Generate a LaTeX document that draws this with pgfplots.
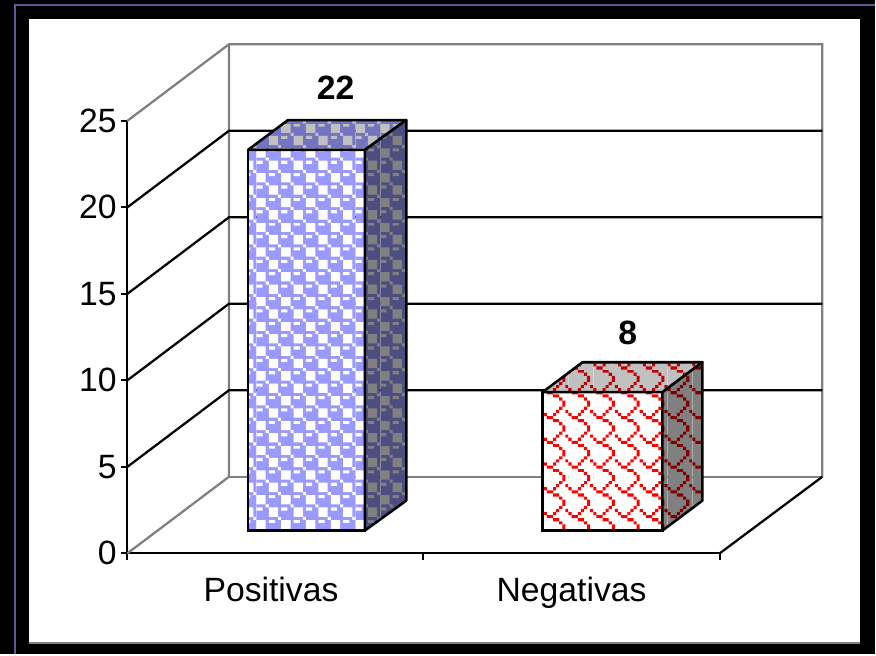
\documentclass[border=0pt]{standalone}
\usepackage{pgfplots}
\pgfplotsset{compat=1.18}
\usepackage{fontspec}
\setmainfont{Liberation Sans}
\usetikzlibrary{patterns}
\definecolor{frame}{HTML}{5A5A96}
\definecolor{wall}{HTML}{808080}
\definecolor{bluef}{HTML}{9999FF}
\definecolor{bluet}{HTML}{7373BF}
\definecolor{blues}{HTML}{4D4D80}
\definecolor{redf}{HTML}{FF0000}
\definecolor{redt}{HTML}{C00000}
\definecolor{reds}{HTML}{800000}
\definecolor{topbg}{HTML}{C0C0C0}
\definecolor{sidebg}{HTML}{808080}
% one brush pixel is 3.1 image pixels = 2.325pt, tile is 8x8
\newcommand\px[3]{\pgfpathrectangle{\pgfpoint{#1*2.325pt}{(7-#2)*2.325pt}}{\pgfpoint{#3*2.325pt}{2.325pt}}}
\newcommand\checks{\px{0}{0}{3}\px{4}{0}{2}\px{0}{1}{3}\px{0}{2}{3}\px{3}{3}{1}%
  \px{0}{4}{2}\px{4}{4}{3}\px{4}{5}{3}\px{4}{6}{3}\px{7}{7}{1}}
\newcommand\scales{\px{3}{0}{2}\px{5}{1}{1}\px{6}{2}{1}\px{6}{3}{1}\px{5}{4}{1}\px{4}{5}{1}\px{7}{5}{1}\px{3}{6}{1}\px{0}{6}{1}\px{1}{7}{2}}
% name, paper, ink, shape, x and y phase of the tile
\newcommand\brush[6]{\pgfdeclarepatterninherentlycolored{#1}{\pgfpoint{#5}{#6}}{\pgfpoint{#5+18.6pt}{#6+18.6pt}}{\pgfpoint{18.6pt}{18.6pt}}{%
  \pgftransformshift{\pgfpoint{#5}{#6}}%
  \pgfsetfillcolor{#2}\pgfpathrectangle{\pgfpointorigin}{\pgfpoint{18.6pt}{18.6pt}}\pgfusepath{fill}%
  \pgfsetfillcolor{#3}#4\pgfusepath{fill}}}
\brush{bluefront}{bluef}{white}{\checks}{6.55pt}{8.65pt}
\brush{bluetop}{bluet}{topbg}{\checks}{6.55pt}{8.65pt}
\brush{blueside}{blues}{sidebg}{\checks}{6.55pt}{8.65pt}
\brush{redfront}{white}{redf}{\scales}{17.65pt}{9.9pt}
\brush{redtop}{topbg}{redt}{\scales}{17.65pt}{9.9pt}
\brush{redside}{sidebg}{reds}{\scales}{17.65pt}{9.9pt}
\begin{document}
\begin{tikzpicture}
\fill[black] (0,0) rectangle (657pt,491.25pt);
\fill[white] (21.75pt,9pt) rectangle (645.75pt,477pt);
\draw[wall,line width=1pt] (21.75pt,8.5pt) -- (645.75pt,8.5pt);
\draw[frame,line width=1.5pt] (657pt,487.5pt) -- (11.25pt,487.5pt) -- (11.25pt,0pt);
\begin{axis}[
    at={(95.6pt,75.75pt)}, anchor=south west,
    scale only axis, width=444.75pt, height=324.75pt,
    xmin=0, xmax=2, ymin=0, ymax=25,
    clip=false,
    axis x line*=bottom, axis y line*=left,
    axis line style={black,line width=1.7pt,-},
    xtick={0.485,1.5}, xticklabels={Positivas,Negativas},
    minor xtick={0,1,2},
    major x tick style={draw=none},
    minor tick length=5pt,
    ytick={0,5,...,25},
    tick align=outside,
    major tick length=5pt,
    tick style={black,line width=1.5pt},
    minor tick style={black,line width=1.5pt},
    tick label style={font=\fontsize{25.3}{28}\selectfont},
    /pgf/number format/assume math mode=true,
    xticklabel style={yshift=-9.5pt},
    yticklabel style={xshift=0.5pt},
    no markers,
]
% walls and floor, the depth is (0.3433, 4.428)
\addplot[wall,line width=1.7pt] coordinates {(0,25) (0.3433,29.428) (2.3467,29.428) (2.3467,4.428)};
\addplot[wall,line width=1.7pt] coordinates {(0,0) (0.3433,4.428) (0.3433,29.428)};
\addplot[wall,line width=1.7pt] coordinates {(0.3433,4.428) (2.3467,4.428)};
\addplot[black,line width=1.7pt] coordinates {(2,0) (2.3467,4.428)};
\addplot[black,line width=1.7pt] coordinates {(0,5) (0.3433,9.428) (2.3467,9.428)};
\addplot[black,line width=1.7pt] coordinates {(0,10) (0.3433,14.428) (2.3467,14.428)};
\addplot[black,line width=1.7pt] coordinates {(0,15) (0.3433,19.428) (2.3467,19.428)};
\addplot[black,line width=1.7pt] coordinates {(0,20) (0.3433,24.428) (2.3467,24.428)};
% bars
\addplot[ybar,bar width=87.75pt,bar shift=0pt,draw=black,line width=1.9pt,pattern=bluefront,shift={(23.25pt,17.1pt)},
  nodes near coords,every node near coord/.append style={font=\fontsize{25.3}{28}\selectfont\bfseries,anchor=center,xshift=22pt,yshift=47pt}]
  coordinates {(0.5,22)};
\addplot[draw=black,line width=1.9pt,line join=round,pattern=bluetop,shift={(23.25pt,17.1pt)}]
  coordinates {(0.3027,22) (0.4377,23.73) (0.8373,23.73) (0.6973,22)} -- cycle;
\addplot[draw=black,line width=1.9pt,line join=round,pattern=blueside,shift={(23.25pt,17.1pt)}]
  coordinates {(0.6973,0) (0.6973,22) (0.8373,23.73) (0.8373,1.73)} -- cycle;
\addplot[ybar,bar width=90pt,bar shift=0pt,draw=black,line width=1.9pt,pattern=redfront,shift={(23.2pt,17.1pt)},
  nodes near coords,every node near coord/.append style={font=\fontsize{25.3}{28}\selectfont\bfseries,anchor=center,xshift=19pt,yshift=44.8pt}]
  coordinates {(1.5,8)};
\addplot[draw=black,line width=1.9pt,line join=round,pattern=redtop,shift={(23.2pt,17.1pt)}]
  coordinates {(1.2976,8) (1.4326,9.73) (1.8374,9.73) (1.7024,8)} -- cycle;
\addplot[draw=black,line width=1.9pt,line join=round,pattern=redside,shift={(23.2pt,17.1pt)}]
  coordinates {(1.7024,0) (1.7024,8) (1.8374,9.73) (1.8374,1.73)} -- cycle;
\end{axis}
\end{tikzpicture}
\end{document}
